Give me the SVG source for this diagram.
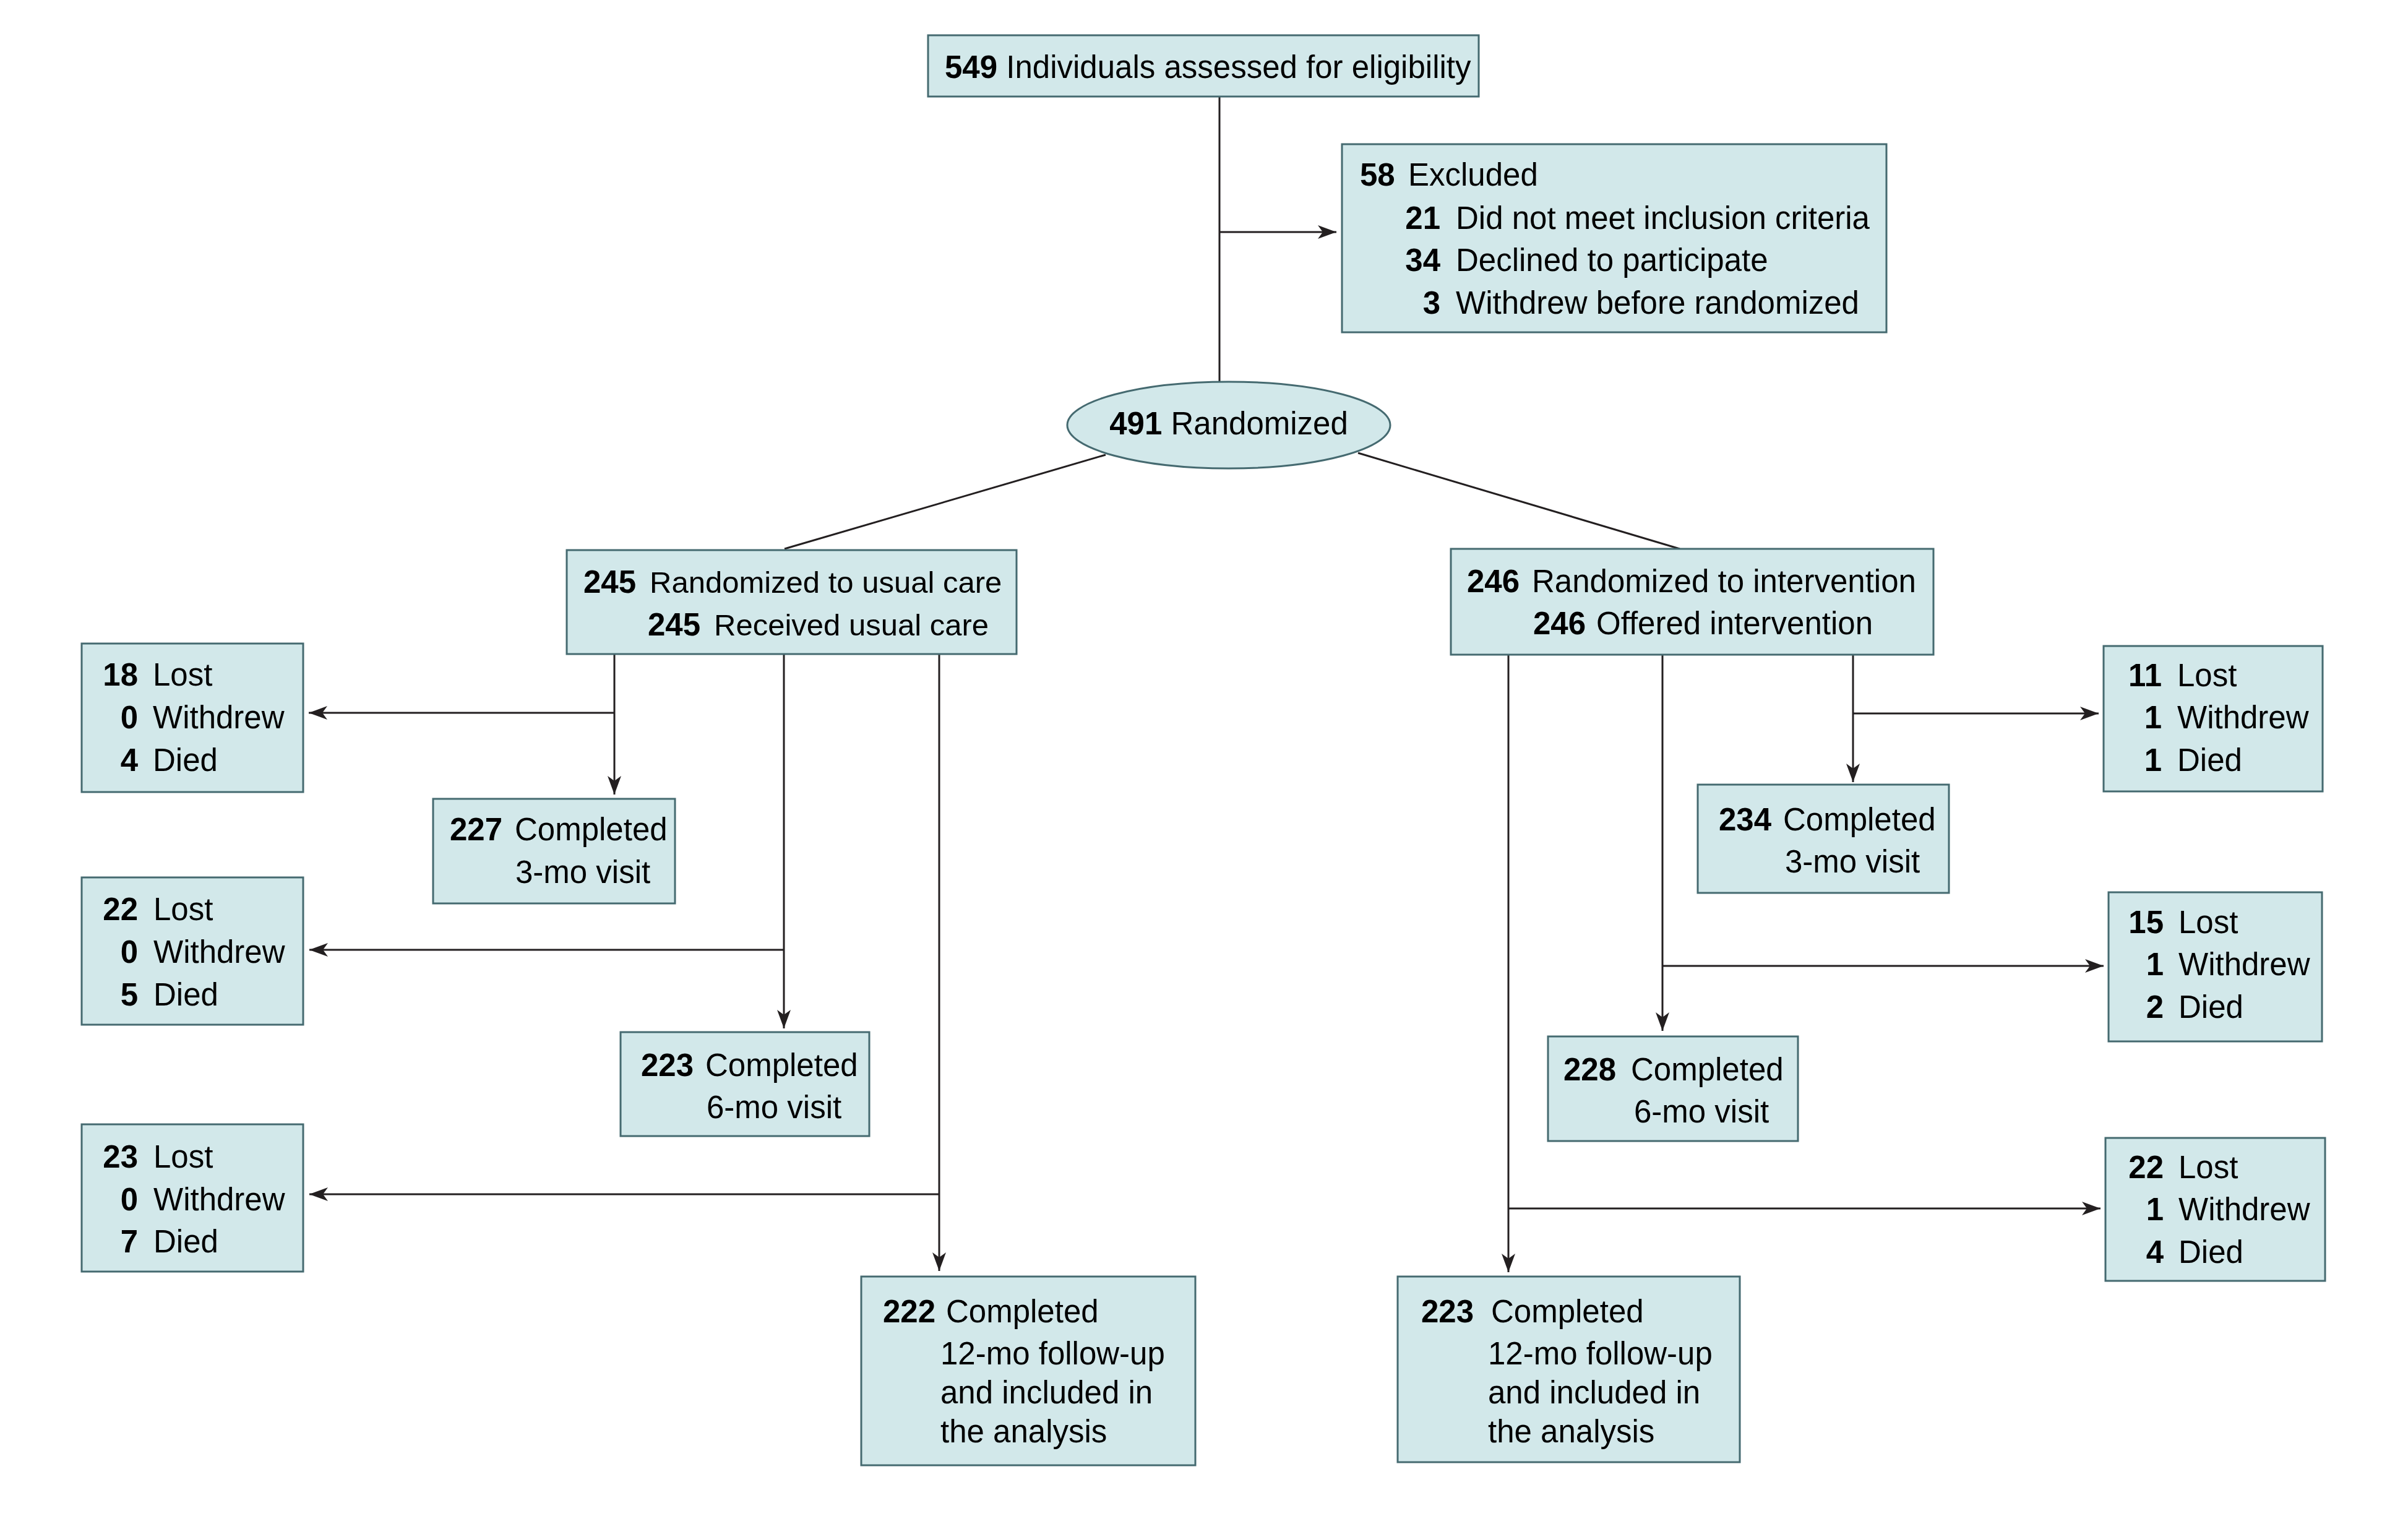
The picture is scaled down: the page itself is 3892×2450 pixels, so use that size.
<svg xmlns="http://www.w3.org/2000/svg" width="3892" height="2450" viewBox="0 0 3892 2450">
<style>
.box{fill:#d2e8ea;stroke:#456a70;stroke-width:3}
.ln{fill:none;stroke:#231f20;stroke-width:3}
text{font-family:"Liberation Sans",Arial,sans-serif;font-size:51px;fill:#000}
.b{font-weight:bold}
.e{text-anchor:end;font-weight:bold}
.s{font-size:49px}
</style>
<defs>
<marker id="ah" viewBox="0 0 30 22" refX="30" refY="11" markerWidth="30" markerHeight="22" markerUnits="userSpaceOnUse" orient="auto">
<path d="M0,0 L30,11 L0,22 L8,11 z" fill="#231f20"/>
</marker>
</defs>
<rect width="3892" height="2450" fill="#fff"/>

<g id="connectors">
<line class="ln" x1="1971" y1="156" x2="1971" y2="617"/>
<line class="ln" x1="1971" y1="375" x2="2160" y2="375" marker-end="url(#ah)"/>
<line class="ln" x1="1787" y1="735" x2="1268" y2="887"/>
<line class="ln" x1="2195" y1="732" x2="2715" y2="887"/>
<line class="ln" x1="993" y1="1057" x2="993" y2="1284" marker-end="url(#ah)"/>
<line class="ln" x1="993" y1="1152" x2="499" y2="1152" marker-end="url(#ah)"/>
<line class="ln" x1="1267" y1="1057" x2="1267" y2="1662" marker-end="url(#ah)"/>
<line class="ln" x1="1267" y1="1535" x2="500" y2="1535" marker-end="url(#ah)"/>
<line class="ln" x1="1518" y1="1057" x2="1518" y2="2054" marker-end="url(#ah)"/>
<line class="ln" x1="1518" y1="1930" x2="500" y2="1930" marker-end="url(#ah)"/>
<line class="ln" x1="2995" y1="1057" x2="2995" y2="1264" marker-end="url(#ah)"/>
<line class="ln" x1="2995" y1="1153" x2="3392" y2="1153" marker-end="url(#ah)"/>
<line class="ln" x1="2687" y1="1057" x2="2687" y2="1666" marker-end="url(#ah)"/>
<line class="ln" x1="2687" y1="1561" x2="3400" y2="1561" marker-end="url(#ah)"/>
<line class="ln" x1="2438" y1="1057" x2="2438" y2="2056" marker-end="url(#ah)"/>
<line class="ln" x1="2438" y1="1953" x2="3395" y2="1953" marker-end="url(#ah)"/>
</g>

<g id="n549">
<rect class="box" x="1500" y="57" width="890" height="99"/>
<text x="1527" y="126"><tspan class="b">549</tspan> Individuals assessed for eligibility</text>
</g>

<g id="excluded">
<rect class="box" x="2169" y="233" width="880" height="304"/>
<text class="b" x="2198" y="300">58</text><text x="2276" y="300">Excluded</text>
<text class="e" x="2328" y="370">21</text><text x="2353" y="370">Did not meet inclusion criteria</text>
<text class="e" x="2328" y="438">34</text><text x="2353" y="438">Declined to participate</text>
<text class="e" x="2328" y="507">3</text><text x="2353" y="507">Withdrew before randomized</text>
</g>

<g id="randomized">
<ellipse class="box" cx="1986" cy="687" rx="261" ry="70"/>
<text x="1986" y="702" text-anchor="middle"><tspan class="b">491</tspan> Randomized</text>
</g>

<g id="usualcare">
<rect class="box" x="916" y="889" width="727" height="168"/>
<text class="b" x="943" y="958">245</text><text class="s" x="1050" y="958">Randomized to usual care</text>
<text class="b" x="1047" y="1027">245</text><text class="s" x="1154" y="1027">Received usual care</text>
</g>

<g id="intervention">
<rect class="box" x="2345" y="887" width="780" height="171"/>
<text class="b" x="2371" y="957">246</text><text x="2476" y="957">Randomized to intervention</text>
<text class="b" x="2478" y="1025">246</text><text x="2580" y="1025">Offered intervention</text>
</g>

<g id="lost3mo-uc">
<rect class="box" x="132" y="1040" width="358" height="240"/>
<text class="e" x="223" y="1108">18</text><text x="247" y="1108">Lost</text>
<text class="e" x="223" y="1177">0</text><text x="247" y="1177">Withdrew</text>
<text class="e" x="223" y="1246">4</text><text x="247" y="1246">Died</text>
</g>

<g id="c3mo-uc">
<rect class="box" x="700" y="1291" width="391" height="169"/>
<text class="b" x="727" y="1358">227</text><text x="832" y="1358">Completed</text>
<text x="833" y="1427">3-mo visit</text>
</g>

<g id="lost6mo-uc">
<rect class="box" x="132" y="1418" width="358" height="238"/>
<text class="e" x="223" y="1487">22</text><text x="248" y="1487">Lost</text>
<text class="e" x="223" y="1556">0</text><text x="248" y="1556">Withdrew</text>
<text class="e" x="223" y="1625">5</text><text x="248" y="1625">Died</text>
</g>

<g id="c6mo-uc">
<rect class="box" x="1003" y="1668" width="402" height="168"/>
<text class="b" x="1036" y="1739">223</text><text x="1140" y="1739">Completed</text>
<text x="1142" y="1807">6-mo visit</text>
</g>

<g id="lost12mo-uc">
<rect class="box" x="132" y="1817" width="358" height="238"/>
<text class="e" x="223" y="1887">23</text><text x="248" y="1887">Lost</text>
<text class="e" x="223" y="1956">0</text><text x="248" y="1956">Withdrew</text>
<text class="e" x="223" y="2024">7</text><text x="248" y="2024">Died</text>
</g>

<g id="c12mo-uc">
<rect class="box" x="1392" y="2063" width="540" height="305"/>
<text class="b" x="1427" y="2137">222</text><text x="1529" y="2137">Completed</text>
<text x="1520" y="2205">12-mo follow-up</text>
<text x="1520" y="2268">and included in</text>
<text x="1520" y="2331">the analysis</text>
</g>

<g id="lost3mo-int">
<rect class="box" x="3400" y="1044" width="354" height="235"/>
<text class="e" x="3494" y="1109">11</text><text x="3519" y="1109">Lost</text>
<text class="e" x="3494" y="1177">1</text><text x="3519" y="1177">Withdrew</text>
<text class="e" x="3494" y="1246">1</text><text x="3519" y="1246">Died</text>
</g>

<g id="c3mo-int">
<rect class="box" x="2744" y="1268" width="406" height="175"/>
<text class="b" x="2778" y="1342">234</text><text x="2882" y="1342">Completed</text>
<text x="2885" y="1410">3-mo visit</text>
</g>

<g id="lost6mo-int">
<rect class="box" x="3408" y="1442" width="345" height="241"/>
<text class="e" x="3497" y="1508">15</text><text x="3521" y="1508">Lost</text>
<text class="e" x="3497" y="1576">1</text><text x="3521" y="1576">Withdrew</text>
<text class="e" x="3497" y="1645">2</text><text x="3521" y="1645">Died</text>
</g>

<g id="c6mo-int">
<rect class="box" x="2502" y="1675" width="404" height="169"/>
<text class="b" x="2527" y="1746">228</text><text x="2636" y="1746">Completed</text>
<text x="2641" y="1814">6-mo visit</text>
</g>

<g id="lost12mo-int">
<rect class="box" x="3403" y="1839" width="355" height="231"/>
<text class="e" x="3497" y="1904">22</text><text x="3521" y="1904">Lost</text>
<text class="e" x="3497" y="1972">1</text><text x="3521" y="1972">Withdrew</text>
<text class="e" x="3497" y="2041">4</text><text x="3521" y="2041">Died</text>
</g>

<g id="c12mo-int">
<rect class="box" x="2259" y="2063" width="553" height="300"/>
<text class="b" x="2297" y="2137">223</text><text x="2410" y="2137">Completed</text>
<text x="2405" y="2205">12-mo follow-up</text>
<text x="2405" y="2268">and included in</text>
<text x="2405" y="2331">the analysis</text>
</g>
</svg>
